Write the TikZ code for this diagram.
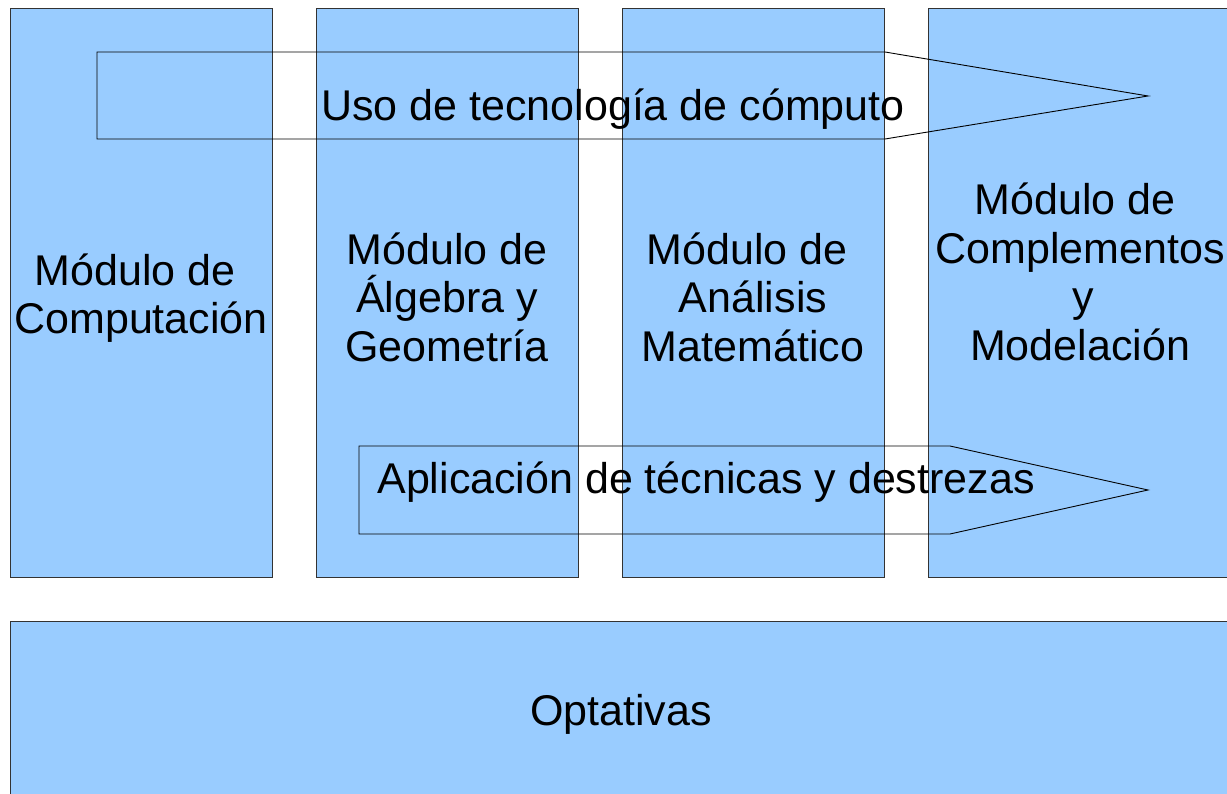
\documentclass[tikz,border=0pt]{standalone}
\usepackage{fontspec}
\setmainfont{Liberation Sans}
\usepackage{xcolor}
\definecolor{azul}{HTML}{99CCFF}

\begin{document}
\begin{tikzpicture}[x=1pt,y=-1pt,line width=1pt]
    \tikzstyle{modulo}=[rectangle,fill=azul,draw=black!80,inner sep=0pt]
    \tikzstyle{flecha}=[draw=black,line width=0.9pt]
    \tikzstyle{texto}=[align=center,inner sep=0pt,font=\fontsize{43}{48.5}\selectfont]

    \useasboundingbox (0,0) rectangle (1227,794);
    \clip (0,0) rectangle (1227,794);

    \node[modulo,minimum width=262pt,minimum height=568pt] (M-1) at (141,293) {};
    \node[modulo,minimum width=262pt,minimum height=568pt] (M-2) at (447,293) {};
    \node[modulo,minimum width=262pt,minimum height=568pt] (M-3) at (753,293) {};
    \node[modulo,minimum width=302pt,minimum height=568pt] (M-4) at (1079,293) {};
    \node[modulo,minimum width=1240pt,minimum height=200pt] (O) at (630,721) {};

    % flechas huecas encima de los modulos
    \draw[flecha] (97,52) -- (885,52) -- (1148,96) -- (885,139) -- (97,139) -- cycle;
    \draw[flecha] (359,446) -- (950,446) -- (1148,490) -- (950,534) -- (359,534) -- cycle;

    \node[texto] (T-1) at (141,298) {Módulo de\kern12pt\\Computación};
    \node[texto] (T-2) at (447,297) {Módulo de\\Álgebra y\\Geometría};
    \node[texto] (T-3) at (753,297) {Módulo de\kern12pt\\Análisis\\Matemático};
    \node[texto] (T-4) at (1080,272) {Módulo de\kern10pt\\Complementos\\\kern6pt y\\Modelación};
    \node[texto] (T-O) at (621,714) {Optativas};

    \node[texto] (U) at (613,109) {Uso de tecnología de cómputo};
    \node[texto] (A) at (706,482) {Aplicación de técnicas y destrezas};
\end{tikzpicture}
\end{document}
